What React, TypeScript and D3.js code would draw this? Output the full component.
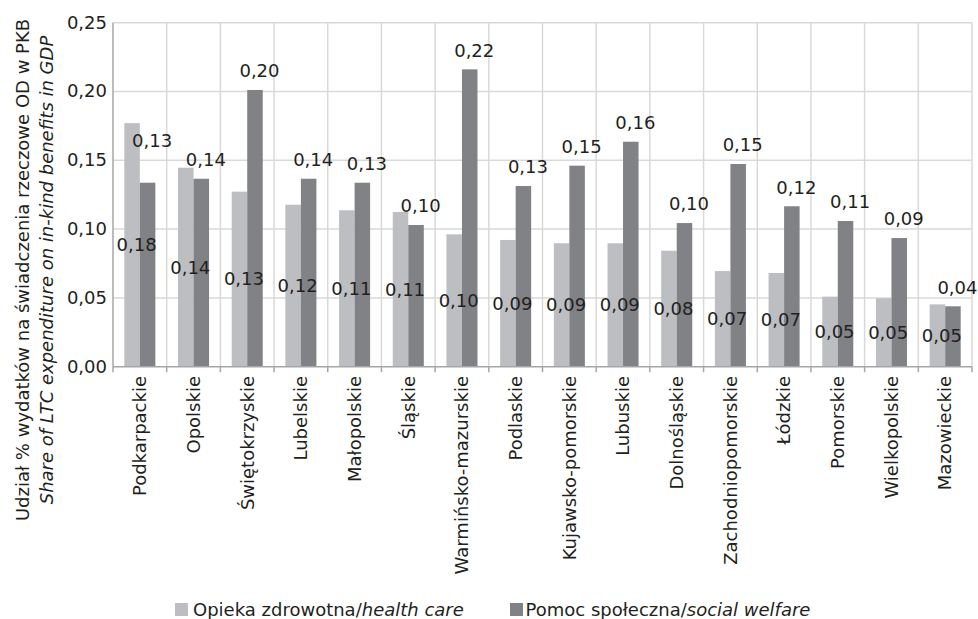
import React from "react";
import * as d3 from "d3";

// Voivodeships, ordered by health-care share
const regions = [
  "Podkarpackie",
  "Opolskie",
  "Świętokrzyskie",
  "Lubelskie",
  "Małopolskie",
  "Śląskie",
  "Warmińsko-mazurskie",
  "Podlaskie",
  "Kujawsko-pomorskie",
  "Lubuskie",
  "Dolnośląskie",
  "Zachodniopomorskie",
  "Łódzkie",
  "Pomorskie",
  "Wielkopolskie",
  "Mazowieckie",
];

// Share of LTC in-kind expenditure in GDP (%)
const healthCare = [
  0.177, 0.1446, 0.1272, 0.1177, 0.1137, 0.1124, 0.0962, 0.0921, 0.0897, 0.0897,
  0.0843, 0.0695, 0.0681, 0.0509, 0.0497, 0.0453,
];
const socialWelfare = [
  0.1337, 0.1366, 0.2011, 0.1366, 0.1337, 0.103, 0.2161, 0.1313, 0.1461, 0.1635,
  0.1044, 0.1473, 0.1166, 0.1059, 0.0935, 0.0439,
];

const yTicks = [0, 0.05, 0.1, 0.15, 0.2, 0.25];

const seriesNames = ["Opieka zdrowotna/", "Pomoc społeczna/"];
const seriesNamesEn = ["health care", "social welfare"];

const axisTitle = "Udział % wydatków na świadczenia rzeczowe OD w PKB";
const axisTitleEn = "Share of LTC expenditure on in-kind benefits in GDP";

const W = 978;
const H = 619;
const plot = { left: 113, right: 972, top: 22.7, bottom: 366.7 };
const colors = ["#bdbec1", "#818286"];
const gridColor = "#d9d9d9";
const axisColor = "#a6a6a6";
const textColor = "#231f20";
const font = "'DejaVu Sans', sans-serif";
const fontSize = 18;

const fmt = (v: number) => d3.format(".2f")(v).replace(".", ",");

export default function App() {
  const x = d3
    .scaleBand<string>()
    .domain(regions)
    .range([plot.left, plot.right])
    .paddingInner(0)
    .paddingOuter(0);
  const inner = d3
    .scaleBand<number>()
    .domain([0, 1])
    .range([0, x.bandwidth()])
    .paddingInner(0)
    .paddingOuter(0.73);
  const y = d3.scaleLinear().domain([0, 0.25]).range([plot.bottom, plot.top]);

  const series = [healthCare, socialWelfare];
  const boundaries = regions.map((r) => x(r) as number).concat([plot.right]);

  // the first welfare label sits higher, clear of the taller health-care bar
  const welfareLift = (i: number) => (i === 0 ? 23 : 0);

  return (
    <svg
      width={W}
      height={H}
      style={{ position: "absolute", left: 0, top: 0, background: "#fff" }}
      fontFamily={font}
      fill={textColor}
    >
      {/* horizontal grid */}
      {yTicks.slice(1).map((t) => (
        <line
          key={"h" + t}
          x1={plot.left}
          x2={plot.right}
          y1={y(t)}
          y2={y(t)}
          stroke={gridColor}
          strokeWidth={1.5}
        />
      ))}
      {/* vertical grid at category boundaries */}
      {boundaries.slice(1).map((b, i) => (
        <line
          key={"v" + i}
          x1={b}
          x2={b}
          y1={plot.top}
          y2={plot.bottom}
          stroke={gridColor}
          strokeWidth={1.5}
        />
      ))}

      {/* bars */}
      {series.map((vals, s) =>
        vals.map((v, i) => {
          const bx = (x(regions[i]) as number) + (inner(s) as number);
          return (
            <rect
              key={`b${s}-${i}`}
              x={bx}
              y={y(v)}
              width={inner.bandwidth()}
              height={plot.bottom - y(v)}
              fill={colors[s]}
            />
          );
        })
      )}

      {/* axes */}
      <line x1={plot.left} x2={plot.left} y1={plot.top} y2={plot.bottom} stroke={axisColor} strokeWidth={1.5} />
      <line x1={plot.left} x2={plot.right} y1={plot.bottom} y2={plot.bottom} stroke={axisColor} strokeWidth={1.5} />
      {boundaries.map((b, i) => (
        <line key={"t" + i} x1={b} x2={b} y1={plot.bottom} y2={plot.bottom + 5.5} stroke={axisColor} strokeWidth={1.5} />
      ))}

      {/* y tick labels */}
      {yTicks.map((t) => (
        <text
          key={"yl" + t}
          x={107}
          y={y(t)}
          dy="0.33em"
          textAnchor="end"
          fontSize={fontSize}
        >
          {fmt(t)}
        </text>
      ))}

      {/* category labels */}
      {regions.map((r) => {
        const cx = (x(r) as number) + x.bandwidth() / 2;
        return (
          <text
            key={"c" + r}
            transform={`translate(${cx},376) rotate(-90)`}
            dy="0.35em"
            textAnchor="end"
            fontSize={fontSize}
          >
            {r}
          </text>
        );
      })}

      {/* value labels: health care centred in the bar, social welfare above it */}
      {healthCare.map((v, i) => {
        const cx = (x(regions[i]) as number) + (inner(0) as number) + inner.bandwidth() / 2 + 4.5;
        return (
          <text key={"lh" + i} x={cx} y={(y(v) + plot.bottom) / 2} dy="0.35em" textAnchor="middle" fontSize={fontSize}>
            {fmt(v)}
          </text>
        );
      })}
      {socialWelfare.map((v, i) => {
        const cx = (x(regions[i]) as number) + (inner(1) as number) + inner.bandwidth() / 2 + 4.5;
        return (
          <text
            key={"ls" + i}
            x={cx}
            y={y(v) - 19 - welfareLift(i)}
            dy="0.35em"
            textAnchor="middle"
            fontSize={fontSize}
          >
            {fmt(v)}
          </text>
        );
      })}

      {/* y axis title */}
      <text transform="translate(29,270) rotate(-90)" textAnchor="middle" fontSize={fontSize}>
        {axisTitle}
      </text>
      <text
        transform="translate(52.5,270) rotate(-90)"
        textAnchor="middle"
        fontSize={fontSize}
        fontStyle="italic"
      >
        {axisTitleEn}
      </text>

      {/* legend */}
      {[
        { sq: 175, tx: 193 },
        { sq: 510, tx: 525.5 },
      ].map((p, s) => (
        <g key={"lg" + s}>
          <rect x={p.sq} y={603} width={13} height={13} fill={colors[s]} />
          <text x={p.tx} y={616} fontSize={fontSize}>
            {seriesNames[s]}
            <tspan fontStyle="italic">{seriesNamesEn[s]}</tspan>
          </text>
        </g>
      ))}
    </svg>
  );
}
